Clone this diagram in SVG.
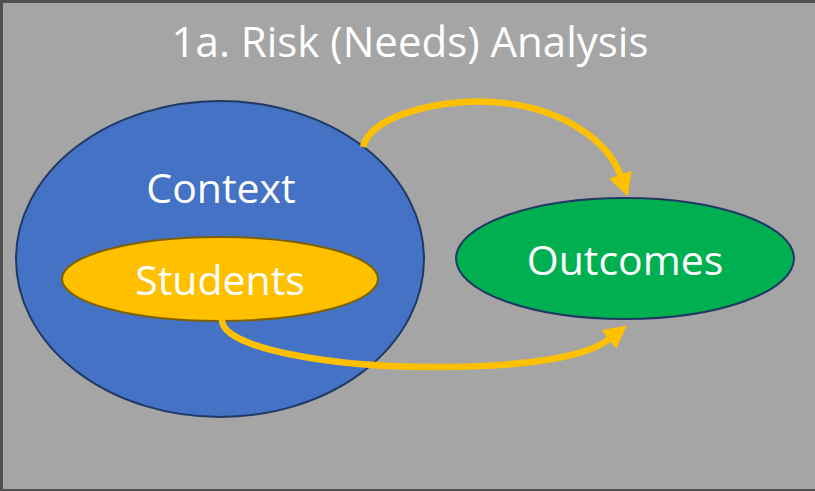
<svg xmlns="http://www.w3.org/2000/svg" width="815" height="491" viewBox="0 0 815 491">
<style>
.lbl{font-family:"Open Sans","Liberation Sans",sans-serif;fill:#FFFFFF;text-anchor:middle;}
.conn{fill:none;stroke:#FFC000;stroke-width:6.5;stroke-linecap:butt;}
</style>
<defs>
<marker id="ah" markerUnits="userSpaceOnUse" markerWidth="24" markerHeight="26" refX="1" refY="12" orient="auto" viewBox="0 0 24 26">
<path d="M0,0 L23,12 L0,24 Z" fill="#FFC000"/>
</marker>
</defs>
<rect x="0" y="0" width="815" height="491" fill="#A5A5A5"/>
<path d="M1.5,491 V1.5 H815" fill="none" stroke="#505050" stroke-width="3"/>
<path d="M0,490 H815" fill="none" stroke="#505050" stroke-width="2"/>
<text id="title" class="lbl" x="410" y="57" font-size="42">1a. Risk (Needs) Analysis</text>
<g id="context">
<ellipse cx="220" cy="259" rx="204" ry="158" fill="#4472C4" stroke="#1F3864" stroke-width="2"/>
<text class="lbl" x="221" y="203" font-size="41">Context</text>
</g>
<g id="students">
<ellipse cx="220" cy="279" rx="158" ry="42" fill="#FFC000" stroke="#7F6000" stroke-width="2"/>
<text class="lbl" x="220" y="295" font-size="41">Students</text>
</g>
<g id="outcomes">
<ellipse cx="625" cy="258.5" rx="169" ry="60.5" fill="#00B050" stroke="#1F3864" stroke-width="2"/>
<text class="lbl" x="625" y="275" font-size="41">Outcomes</text>
</g>
<g id="connectors">
<path class="conn" marker-end="url(#ah)" d="M363,147 C372,112 450,99 492,102 C560,106 608,140 620.5,175.5"/>
<path class="conn" marker-end="url(#ah)" d="M222,320 C222,348 330,367 433,367 C520,367 585,358 609.5,339"/>
</g>
</svg>
